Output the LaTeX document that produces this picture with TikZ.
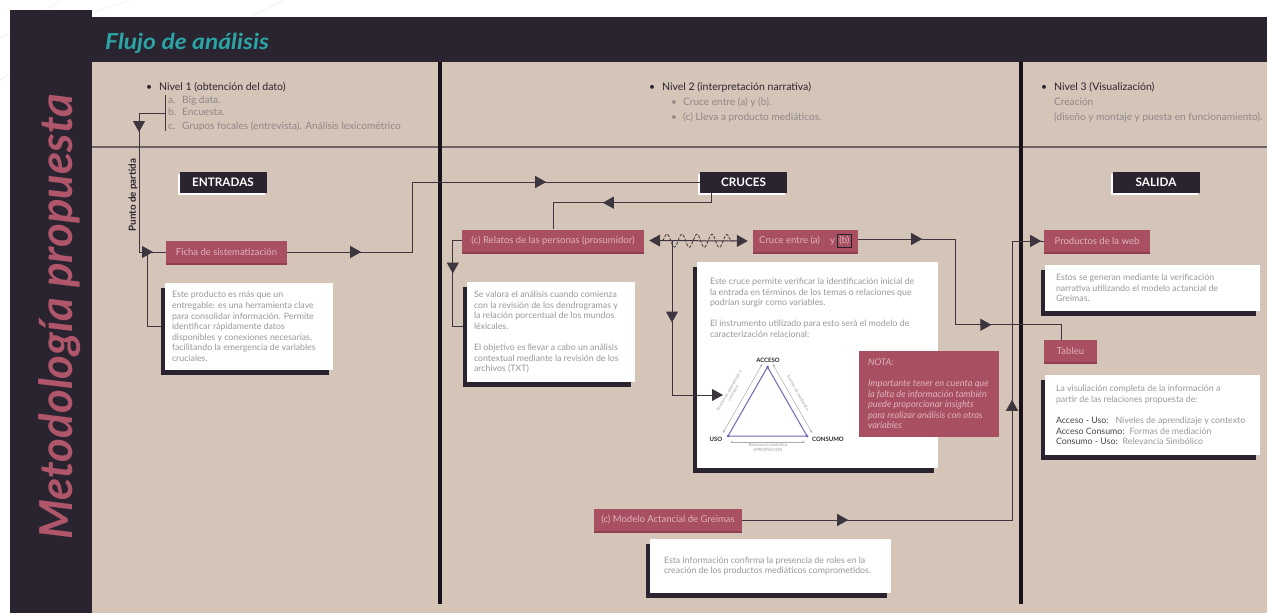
\documentclass[tikz,border=0pt]{standalone}
\usepackage{fontspec}
\setmainfont{Lato}
\usetikzlibrary{arrows.meta,decorations.markings,decorations.pathmorphing,shadows,calc}
\definecolor{dk}{HTML}{2A2430}
\definecolor{beige}{HTML}{D5C4B8}
\definecolor{pk}{HTML}{A84F62}
\definecolor{pkd}{HTML}{8E3E50}
\definecolor{pktxt}{HTML}{E0B2BC}
\definecolor{pkbig}{HTML}{B0566A}
\definecolor{tealc}{HTML}{2AA5A5}
\definecolor{gtxt}{HTML}{9C9696}
\definecolor{subt}{HTML}{8E8888}
\definecolor{ln}{HTML}{3E363E}
\definecolor{divl}{HTML}{6C6464}
\definecolor{vl}{HTML}{18121A}
\definecolor{purp}{HTML}{7664B4}
\definecolor{dtxt}{HTML}{4A4448}
\setlength\fboxsep{1.5pt}
\setlength\fboxrule{0.9pt}
\newcommand\hfnt{\fontsize{10.5}{12}\selectfont}
\newcommand\sfnt{\fontsize{10.1}{11}\selectfont}
\newcommand\bfnt{\fontsize{8.8}{10.6}\selectfont}
\newcommand\pfnt{\fontsize{9.5}{10}\selectfont}
\newcommand\lfnt{\fontsize{11.7}{12}\selectfont\bfseries}
\tikzset{
  conn/.style={draw=ln, line width=1pt},
  tip at/.style={postaction={decorate,decoration={markings,mark=at position #1 with {\arrow[ln]{Triangle[length=11pt,width=12pt]}}}}},
  lbl/.style={fill=dk, text=white, font=\lfnt, minimum width=87pt, minimum height=21pt, inner sep=0pt,
    drop shadow={shadow xshift=-2pt, shadow yshift=-2pt, fill=white, opacity=1}},
  pbox/.style={fill=pk, text=pktxt, font=\pfnt, minimum height=22pt, inner sep=0pt,
    drop shadow={shadow xshift=0pt, shadow yshift=-2pt, fill=pkd, opacity=1}},
  wbox/.style={fill=white, inner sep=0pt,
    drop shadow={shadow xshift=-4pt, shadow yshift=-5pt, fill=dk, opacity=1}},
  btxt/.style={text=gtxt, font=\bfnt, align=left, inner sep=0pt, anchor=west},
  head/.style={font=\hfnt, text=dk, anchor=base west, inner sep=0pt},
  subi/.style={font=\sfnt, text=subt, anchor=base west, inner sep=0pt},
  tlab/.style={font=\fontsize{6}{7}\selectfont\bfseries, text=dk, inner sep=0pt},
  stxt/.style={font=\fontsize{4.3}{4.8}\selectfont, text=gray!75, inner sep=0pt, align=center},
  garr/.style={draw=gray!65, line width=0.5pt, {Stealth[length=3pt,width=2.4pt]}-{Stealth[length=3pt,width=2.4pt]}}
}
\begin{document}
\begin{tikzpicture}[x=1pt,y=-1pt]
\useasboundingbox (0,0) rectangle (1267,613);
\fill[white] (0,0) rectangle (1267,613);
% faint decorative lines
\draw[gray!10, line width=0.7pt] (0,38) -- (62,0);
\draw[gray!10, line width=0.7pt] (0,80) -- (12,72);
\draw[gray!10, line width=0.7pt] (80,17) -- (130,0);
\draw[gray!10, line width=0.7pt] (250,17) -- (285,0);
% panels
\fill[dk] (10,10) rectangle (92,613);
\fill[dk] (92,17) rectangle (1267,62);
\fill[beige] (92,62) rectangle (1267,613);
\draw[divl, line width=2pt] (92,147) -- (1267,147);
\draw[vl, line width=3.5pt] (440,62) -- (440,604);
\draw[vl, line width=3.5pt] (1021,62) -- (1021,604);
% titles
\node[anchor=base west, inner sep=0pt, text=tealc, font=\fontsize{22}{23}\selectfont\bfseries\itshape] (title) at (105,49) {\scalebox{1.12}[1]{Flujo de análisis}};
\node[rotate=90, anchor=base, inner sep=0pt, text=pkbig, font=\fontsize{45.5}{46}\selectfont\bfseries\itshape] (met) at (72,317) {Metodología propuesta};
% Nivel 1
\node[head] (b1) at (146,90) {•};
\node[head] (n1) at (159,90) {Nivel 1 (obtención del dato)};
\node[subi] (n1a) at (168,103) {a.};
\node[subi] (n1at) at (182,103) {Big data.};
\node[subi] (n1b) at (168,115) {b.};
\node[subi] (n1bt) at (182,115) {Encuesta.};
\node[subi] (n1c) at (168,129) {c.};
\node[subi] (n1ct) at (182,129) {Grupos focales (entrevista). Análisis lexicométrico};
\coordinate (brt) at (165,95);
\coordinate (brb) at (165,131);
\coordinate (br) at (165,113);
\draw[ln, line width=0.8pt] (brt) -- (brb);
% Nivel 2
\node[head] (b2) at (649,90) {•};
\node[head] (n2) at (662,90) {Nivel 2 (interpretación narrativa)};
\node[subi] (b2a) at (671,105) {•};
\node[subi] (n2a) at (683,105) {Cruce entre (a) y (b).};
\node[subi] (b2b) at (671,120) {•};
\node[subi] (n2b) at (683,120) {(c) Lleva a producto mediáticos.};
% Nivel 3
\node[head] (b3) at (1041,90) {•};
\node[head] (n3) at (1054,90) {Nivel 3 (Visualización)};
\node[subi] (n3a) at (1054,105) {Creación};
\node[subi] (n3b) at (1054,120) {(diseño y montaje y puesta en funcionamiento).};
% labels
\node[lbl] (entradas) at (223,182.5) {ENTRADAS};
\node[lbl] (cruces) at (743.5,182) {CRUCES};
\node[lbl] (salida) at (1156,182) {SALIDA};
\node[rotate=90, inner sep=0pt, font=\fontsize{9.8}{10}\selectfont\bfseries, text=dk] (punto) at (133,195) {Punto de partida};
% pink boxes
\node[pbox, minimum width=121pt] (ficha) at (226.5,252) {Ficha de sistematización};
\node[pbox, minimum width=182pt] (relatos) at (553,240.5) {(c) Relatos de las personas (prosumidor)};
\node[pbox, minimum width=105pt] (cruce) at (805.5,241) {Cruce entre (a)\hspace{10pt}y\hspace{2pt}\fcolorbox{dk}{pk}{(b)}};
\node[pbox, minimum width=106pt] (productos) at (1097,241) {Productos de la web};
\node[pbox, minimum width=53pt] (tableu) at (1070.5,351) {Tableu};
\node[pbox, minimum width=148pt] (modelo) at (668,520) {(c) Modelo Actancial de Greimas};
% white boxes
\node[wbox, minimum width=168pt, minimum height=87pt] (d1) at (249,326.5) {};
\node[btxt] (d1t) at ([xshift=7pt]d1.west) {Este producto es más que un\\entregable: es una herramienta clave\\para consolidar información. Permite\\identificar rápidamente datos\\disponibles y conexiones necesarias,\\facilitando la emergencia de variables\\cruciales.};
\node[wbox, minimum width=168pt, minimum height=100pt] (d2) at (551,332) {};
\node[btxt] (d2t) at ([xshift=7pt]d2.west) {Se valora el análisis cuando comienza\\con la revisión de los dendrogramas y\\la relación porcentual de los mundos\\léxicales.\\[10.6pt]El objetivo es llevar a cabo un análisis\\contextual mediante la revisión de los\\archivos (TXT)};
\node[wbox, minimum width=241pt, minimum height=206pt] (tb) at (817.5,365) {};
\node[btxt, anchor=north west] (tbt) at ([xshift=13pt,yshift=-16pt]tb.north west) {Este cruce permite verificar la identificación inicial de\\la entrada en términos de los temas o relaciones que\\podrían surgir como variables.\\[10.6pt]El instrumento utilizado para esto será el modelo de\\caracterización relacional:};
\node[wbox, minimum width=241pt, minimum height=54pt] (d4) at (770.5,566) {};
\node[btxt] (d4t) at ([xshift=14pt]d4.west) {Esta información confirma la presencia de roles en la\\creación de los productos mediáticos comprometidos.};
\node[wbox, minimum width=215pt, minimum height=46pt] (d5) at (1152.5,288) {};
\node[btxt] (d5t) at ([xshift=11pt]d5.west) {Estos se generan mediante la verificación\\narrativa utilizando el modelo actancial de\\Greimas.};
\node[wbox, minimum width=215pt, minimum height=80pt] (d6) at (1152.5,415) {};
\node[btxt] (d6t) at ([xshift=11pt]d6.west) {La visuliación completa de la información a\\partir de las relaciones propuesta de:\\[10.6pt]{\color{dtxt}Acceso - Uso:}\hspace{7pt}Niveles de aprendizaje y contexto\\{\color{dtxt}Acceso Consumo:}\hspace{5pt}Formas de mediación\\{\color{dtxt}Consumo - Uso:}\hspace{5pt}Relevancia Simbólico};
% triangle
\coordinate (tA) at (767.5,367);
\coordinate (tU) at (728,436);
\coordinate (tC) at (807,436);
\draw[purp, line width=1pt, line join=round] (tA) -- (tU) -- (tC) -- cycle;
\fill[purp] (tA) circle (1.5pt) (tU) circle (1.5pt) (tC) circle (1.5pt);
\draw[garr] ($(tU)+(-5.2,-3)$) -- ($(tA)+(-5.2,-3)$);
\draw[garr] ($(tA)+(5.2,-3)$) -- ($(tC)+(5.2,-3)$);
\draw[garr] ($(tU)+(2,6)$) -- ($(tC)+(-2,6)$);
\node[tlab] (lA) at (768,360) {ACCESO};
\node[tlab] (lU) at (716,439) {USO};
\node[tlab] (lC) at (828,439) {CONSUMO};
\node[stxt, rotate=60] (sL) at (731,392) {Niveles de aprendizaje y\\contexto};
\node[stxt, rotate=-60] (sR) at (798,393) {Formas de mediación};
\node[stxt] (sB) at (768,447.5) {Relevancia simbólica\\APROPIACIÓN};
% nota
\node[fill=pk, minimum width=140pt, minimum height=86pt, inner sep=0pt] (nota) at (929,394) {};
\node[anchor=west, inner sep=0pt, align=left, text=pktxt, font=\fontsize{9.2}{10.5}\selectfont\itshape] (notat) at ([xshift=9pt]nota.west) {NOTA:\\[10.5pt]Importante tener en cuenta que\\la falta de información también\\puede proporcionar insights\\para realizar análisis con otras\\variables};
% connectors
\coordinate (p1) at (139,252);
\coordinate (fj) at (147,252);
\draw[conn, tip at=45pt, tip at=179pt] (br) -| (p1) -- (ficha.west);
\draw[conn] ([xshift=-4pt]d1.west) -| (fj);
\coordinate (c3) at (412,252);
\draw[conn, tip at=74pt, tip at=329pt] (ficha.east) -- (c3) |- (cruces.west);
\draw[conn, tip at=119pt] ([xshift=12pt]cruces.south west) -- ++(0,10) -| (relatos.north);
\draw[conn, tip at=42pt] (relatos.west) -- ++(-9,0) |- ([xshift=-4pt,yshift=6pt]d2.west);
\draw[conn, {Triangle[length=11pt,width=12pt]}-{Triangle[length=11pt,width=12pt]}, shorten <=5pt, shorten >=5pt] (relatos.east) -- (cruce.west);
\draw[ln, line width=0.8pt, dashed, dash pattern=on 3pt off 1.5pt, decorate, decoration={snake, amplitude=6.5pt, segment length=15pt}] ([xshift=18pt]relatos.east) -- ([xshift=-17pt]cruce.west);
\coordinate (j7) at (672,240.5);
\coordinate (trin) at (723,395);
\draw[conn, tip at=82pt, -{Triangle[length=11pt,width=12pt]}] (j7) |- (trin);
\coordinate (c8) at (955,239);
\draw[conn, tip at=64pt, tip at=219pt] ([yshift=2pt]cruce.east) -- (c8) |- ([xshift=-9.5pt,yshift=15pt]tableu.north) -- ([xshift=-9.5pt]tableu.north);
\coordinate (c9) at (1012,520);
\draw[conn, tip at=106pt, tip at=390pt, tip at=578pt] (modelo.east) -- (c9) |- (productos.west);
\end{tikzpicture}
\end{document}
